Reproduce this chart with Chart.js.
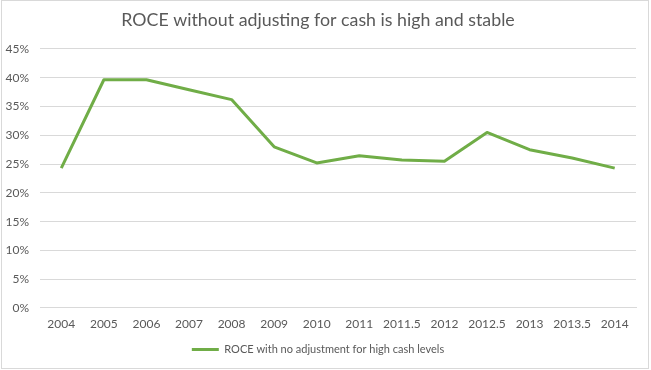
<!DOCTYPE html>
<html>
<head>
<meta charset="utf-8">
<script src="https://cdn.jsdelivr.net/npm/chart.js@4.4.1/dist/chart.umd.min.js"></script>
<style>
  html, body { margin: 0; padding: 0; background: #fff; }
  canvas { display: block; }
</style>
</head>
<body>
<canvas id="roceChart" width="651" height="370"></canvas>
<script>
// Data
const years = ['2004', '2005', '2006', '2007', '2008', '2009', '2010', '2011', '2011.5', '2012', '2012.5', '2013', '2013.5', '2014'];
const roceNoAdj = [24.3, 39.65, 39.65, 37.9, 36.2, 28.0, 25.2, 26.45, 25.7, 25.5, 30.5, 27.5, 26.05, 24.3];
const seriesName = 'ROCE with no adjustment for high cash levels';
const chartTitle = 'ROCE without adjusting for cash is high and stable';

const textColor = '#595959';
const gridColor = '#d9d9d9';
const lineColor = '#70AD47';
const fontFamily = 'Lato, "Open Sans", sans-serif';

// outer frame like the Excel chart border
const framePlugin = {
  id: 'frame',
  afterDraw(chart) {
    const c = chart.ctx;
    c.save();
    c.strokeStyle = gridColor;
    c.lineWidth = 1;
    c.strokeRect(1.5, 0.5, 647, 368);
    c.restore();
  }
};

new Chart(document.getElementById('roceChart'), {
  type: 'line',
  data: {
    labels: years,
    datasets: [{
      label: seriesName,
      data: roceNoAdj,
      borderColor: lineColor,
      backgroundColor: lineColor,
      borderWidth: 3,
      pointRadius: 0,
      tension: 0,
      borderJoinStyle: 'round'
    }]
  },
  options: {
    responsive: false,
    animation: false,
    layout: { padding: { left: 0, right: 15, top: 0, bottom: 5 } },
    scales: {
      x: {
        offset: true,
        grid: { display: false, drawTicks: false },
        border: { display: true, color: gridColor },
        ticks: { color: textColor, font: { family: fontFamily, size: 12 }, padding: 9, maxRotation: 0, autoSkip: false },
        afterFit: axis => { axis.height = 26; }
      },
      y: {
        min: 0,
        max: 45,
        grid: { color: gridColor, drawTicks: false },
        border: { display: false },
        ticks: {
          stepSize: 5,
          color: textColor,
          padding: 11,
          font: { family: fontFamily, size: 12 },
          callback: v => v + '%'
        },
        afterFit: axis => { axis.width = 40; }
      }
    },
    plugins: {
      title: {
        display: true,
        text: chartTitle,
        color: textColor,
        font: { family: fontFamily, size: 17.8, weight: 'normal', lineHeight: 1.2 },
        padding: { top: 10, bottom: 17.6 }
      },
      legend: {
        position: 'bottom',
        labels: {
          color: textColor,
          font: { family: fontFamily, size: 11 },
          boxWidth: 27,
          boxHeight: 3,
          padding: 10,
          generateLabels: chart => chart.data.datasets.map((ds, i) => ({
            text: ds.label,
            fillStyle: ds.borderColor,
            strokeStyle: ds.borderColor,
            lineWidth: 0,
            fontColor: textColor,
            datasetIndex: i
          }))
        }
      },
      tooltip: { enabled: false }
    }
  },
  plugins: [framePlugin]
});
</script>
</body>
</html>
